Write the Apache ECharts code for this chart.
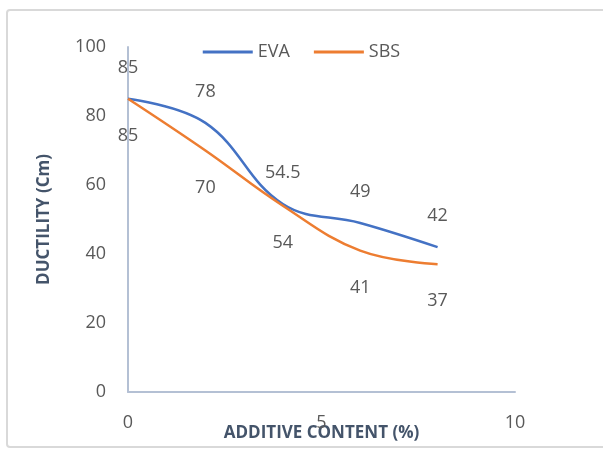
<!DOCTYPE html>
<html><head><meta charset="utf-8">
<script src="https://cdn.jsdelivr.net/npm/echarts@6/dist/echarts.min.js"></script>
<style>html,body{margin:0;padding:0;background:#fff}#c{width:603px;height:450px}</style>
</head><body><div id="c"></div>
<script>
const xValues = [0, 2, 4, 6, 8];
const evaValues = [85, 78, 54.5, 49, 42];
const sbsValues = [85, 70, 54, 41, 37];
const seriesNames = ['EVA', 'SBS'];
const xTicks = [0, 5, 10];
const yTicks = [0, 20, 40, 60, 80, 100];

const font = '"Open Sans", "Liberation Sans", sans-serif';
const txt = '#595959';
const titleCol = '#44546a';
const chart = echarts.init(document.getElementById('c'), null, {renderer: 'canvas'});
const pair = (xs, ys) => xs.map((x, i) => [x, ys[i]]);
chart.setOption({
  animation: false,
  graphic: [{type: 'rect', shape: {x: 7, y: 10, width: 640, height: 437, r: 3},
    style: {fill: 'none', stroke: '#d9d9d9', lineWidth: 2}, z: -10}],
  legend: {
    top: 38, left: 'center', itemWidth: 50, itemHeight: 3, itemGap: 24,
    icon: 'rect',
    textStyle: {fontFamily: font, fontSize: 18, color: txt},
    data: seriesNames
  },
  grid: {left: 128, right: 88, top: 47, bottom: 58, containLabel: false, outerBoundsMode: 'none'},
  xAxis: {
    type: 'value', min: 0, max: 10, interval: 5,
    name: 'ADDITIVE CONTENT (%)', nameLocation: 'middle', nameGap: 33, nameMoveOverlap: false,
    nameTextStyle: {fontFamily: font, fontSize: 17, fontWeight: 'bold', color: titleCol},
    axisLine: {show: true, lineStyle: {color: '#b4c0d4', width: 2}},
    axisTick: {show: false}, splitLine: {show: false},
    axisLabel: {fontFamily: font, fontSize: 18, color: txt, margin: 22,
      formatter: v => xTicks.includes(v) ? String(v) : ''}
  },
  yAxis: {
    type: 'value', min: 0, max: 100, interval: 20,
    name: 'DUCTILITY (Cm)', nameLocation: 'middle', nameGap: 75, nameRotate: 90, nameMoveOverlap: false,
    nameTextStyle: {fontFamily: font, fontSize: 17, fontWeight: 'bold', color: titleCol},
    axisLine: {show: true, lineStyle: {color: '#b4c0d4', width: 2}},
    axisTick: {show: false}, splitLine: {show: false},
    axisLabel: {fontFamily: font, fontSize: 18, color: txt, margin: 22,
      formatter: v => yTicks.includes(v) ? String(v) : ''}
  },
  series: [
    {name: seriesNames[0], type: 'line', smooth: 0.4, symbol: 'circle', symbolSize: 0,
     showSymbol: true,
     data: pair(xValues, evaValues), color: '#4472c4',
     lineStyle: {width: 2.5, color: '#4472c4'},
     label: {show: true, position: 'top', distance: 22, fontFamily: font, fontSize: 18, color: txt}},
    {name: seriesNames[1], type: 'line', smooth: 0.4, symbol: 'circle', symbolSize: 0,
     showSymbol: true,
     data: pair(xValues, sbsValues), color: '#ed7d31',
     lineStyle: {width: 2.5, color: '#ed7d31'},
     label: {show: true, position: 'bottom', distance: 28, fontFamily: font, fontSize: 18, color: txt}}
  ]
});
</script></body></html>
